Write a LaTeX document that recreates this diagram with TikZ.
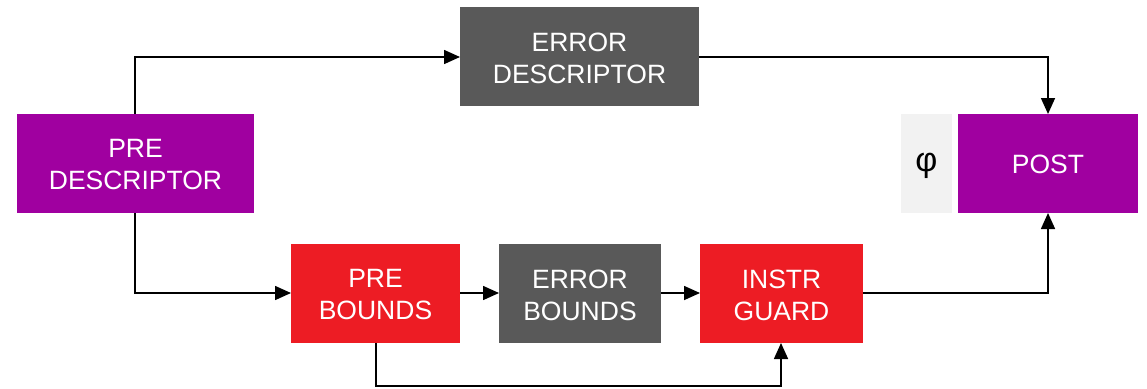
\documentclass[tikz,border=0pt]{standalone}
\usepackage{fontspec}
\setmainfont{Liberation Sans}
\usetikzlibrary{arrows.meta}
\definecolor{cpurple}{HTML}{A000A0}
\definecolor{cgray}{HTML}{595959}
\definecolor{cred}{HTML}{ED1C24}
\definecolor{clight}{HTML}{F2F2F2}
\begin{document}
\begin{tikzpicture}[x=1pt,y=-1pt,
  box/.style={draw=none,text=white,align=center,inner sep=0pt,
    font=\fontsize{26.5}{32}\selectfont},
  conn/.style={line width=1.6pt,-{Triangle[length=16pt,width=14pt]}}]
\useasboundingbox (0,0) rectangle (1147,388);
\fill[white] (0,0) rectangle (1147,388);
% boxes
\path[fill=cpurple] (17,114) rectangle (254,213);
\node[box] (pred) at (135.5,165) {PRE\\DESCRIPTOR};
\path[fill=cgray] (460,7) rectangle (699,106);
\node[box] (errd) at (579.5,58) {ERROR\\DESCRIPTOR};
\path[fill=clight] (901,114) rectangle (952,213);
\node[inner sep=0pt,font=\fontsize{34}{34}\selectfont] (phi) at (926.5,166) {φ};
\path[fill=cpurple] (958,114) rectangle (1138,213);
\node[box] (post) at (1048,164) {POST};
\path[fill=cred] (291,244) rectangle (460,343);
\node[box] (preb) at (375.5,295) {PRE\\BOUNDS};
\path[fill=cgray] (499,244) rectangle (661,343);
\node[box] (errb) at (580,295) {ERROR\\BOUNDS};
\path[fill=cred] (700,244) rectangle (863,343);
\node[box] (ig) at (781.5,295) {INSTR\\GUARD};
% anchor coordinates on box edges
\coordinate (predT) at (135,114);
\coordinate (predB) at (135,213);
\coordinate (errdL) at (460,57);
\coordinate (errdR) at (699,57);
\coordinate (postT) at (1048,114);
\coordinate (postB) at (1048,213);
\coordinate (prebL) at (291,293);
\coordinate (prebR) at (460,293);
\coordinate (prebB) at (376,343);
\coordinate (errbL) at (499,293);
\coordinate (errbR) at (661,293);
\coordinate (igL) at (700,293);
\coordinate (igR) at (863,293);
\coordinate (igB) at (781,343);
% connectors
\draw[conn] (predT) |- (errdL);
\draw[conn] (errdR) -| (postT);
\draw[conn] (predB) |- (prebL);
\draw[conn] (prebR) -- (errbL);
\draw[conn] (errbR) -- (igL);
\draw[conn] (igR) -| (postB);
\draw[conn] (prebB) -- (376,386) -| (igB);
\end{tikzpicture}
\end{document}
